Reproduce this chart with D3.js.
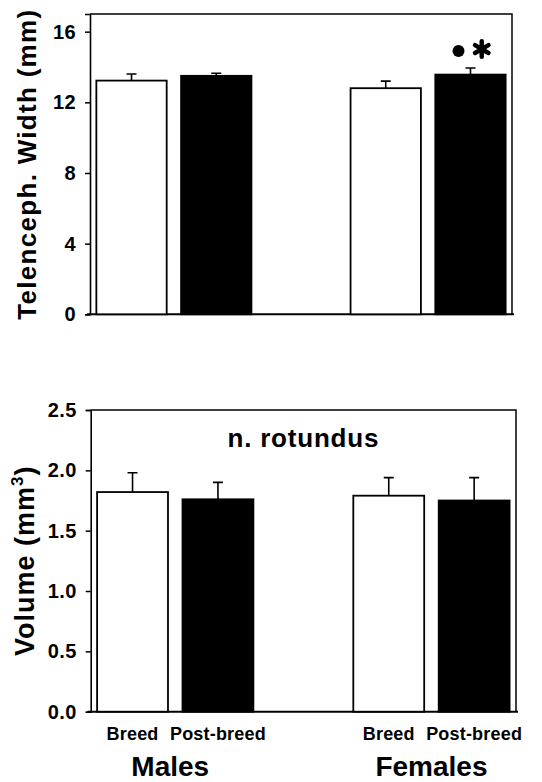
<!DOCTYPE html>
<html>
<head>
<meta charset="utf-8">
<script src="https://cdn.jsdelivr.net/npm/d3@7"></script>
<style>
  body { margin: 0; background: #fff; }
  text { font-family: "Liberation Sans", Arial, sans-serif; font-weight: bold; fill: #000; }
</style>
</head>
<body>
<svg id="chart" width="542" height="782"></svg>
<script>
const groups = ["Males", "Females"];
const conditions = ["Breed", "Post-breed"];

// telencephalon width (mm), bars in order Males-Breed, Males-Post, Females-Breed, Females-Post
const telenMean = [13.23, 13.5, 12.8, 13.57];
const telenSem = [0.37, 0.15, 0.4, 0.37];
const telenTicks = [0, 4, 8, 12, 16];

// n. rotundus volume (mm3)
const rotMean = [1.82, 1.76, 1.79, 1.75];
const rotSem = [0.16, 0.14, 0.15, 0.19];
const rotTicks = [0, 0.5, 1.0, 1.5, 2.0, 2.5];

const svg = d3.select("#chart");

function rows(mean, sem) {
  const out = [];
  groups.forEach((g, gi) => conditions.forEach((c, ci) => {
    const i = gi * conditions.length + ci;
    out.push({ group: g, cond: c, ci: ci, mean: mean[i], sem: sem[i] });
  }));
  return out;
}

function panel(opts) {
  const { x0px, x1px, y0px, y1px, max, ticks, fmt, data } = opts;

  const x0 = d3.scaleBand().domain(groups).range([x0px, x1px])
    .paddingInner(0.39).paddingOuter(0.025);
  const x1 = d3.scaleBand().domain(conditions).range([0, x0.bandwidth()])
    .paddingInner(0.17);
  const y = d3.scaleLinear().domain([0, max]).range([y1px, y0px]);

  const g = svg.append("g");

  // frame (top + right)
  g.append("path")
    .attr("d", `M${x0px},${y0px}H${x1px}V${y1px}`)
    .attr("fill", "none").attr("stroke", "#000").attr("stroke-width", 1.5);

  // baseline
  g.append("line")
    .attr("x1", x0px - 3).attr("x2", x1px + 2)
    .attr("y1", y1px).attr("y2", y1px)
    .attr("stroke", "#000").attr("stroke-width", 2);

  const yAxis = g.append("g")
    .attr("transform", `translate(${x0px},0)`)
    .call(d3.axisLeft(y).tickValues(ticks).tickFormat(fmt).tickSize(5).tickPadding(9));
  yAxis.select(".domain").attr("stroke-width", 1.6);
  yAxis.selectAll(".tick line").attr("stroke-width", 1.5);
  yAxis.selectAll(".tick text")
    .attr("font-size", 20).attr("font-family", null).attr("letter-spacing", 0.4);

  const bx = d => x0(d.group) + x1(d.cond);

  // error bars (upper only)
  g.selectAll(".err").data(data).enter().append("path")
    .attr("d", d => {
      const cx = bx(d) + x1.bandwidth() / 2;
      const yt = y(d.mean + d.sem);
      return `M${cx},${y(d.mean)}V${yt}M${cx - 5},${yt}H${cx + 5}`;
    })
    .attr("fill", "none").attr("stroke", "#000").attr("stroke-width", 1.6);

  g.selectAll(".bar").data(data).enter().append("rect")
    .attr("x", bx)
    .attr("y", d => y(d.mean))
    .attr("width", x1.bandwidth())
    .attr("height", d => y1px - y(d.mean))
    .attr("fill", d => d.ci === 0 ? "#fff" : "#000")
    .attr("stroke", "#000").attr("stroke-width", 1.8);

  return { x0, x1, y, g };
}

// top panel
const p1 = panel({
  x0px: 90, x1px: 512, y0px: 14, y1px: 314.3, max: 17,
  ticks: telenTicks, fmt: d3.format("d"), data: rows(telenMean, telenSem)
});

p1.g.append("text")
  .attr("transform", `translate(36,${(14 + 314.3) / 2}) rotate(-90)`)
  .attr("text-anchor", "middle")
  .attr("font-size", 26).attr("letter-spacing", 1.3)
  .text("Telenceph. Width (mm)");

// significance markers over Females post-breed
{
  const cx = p1.x0("Females") + p1.x1("Post-breed");
  const w = p1.x1.bandwidth();
  const yTop = p1.y(telenMean[3] + telenSem[3]);
  p1.g.append("circle")
    .attr("cx", cx + w * 0.33).attr("cy", yTop - 17).attr("r", 6);
  p1.g.append("path")
    .attr("d", d3.symbol(d3.symbolAsterisk, 170)())
    .attr("transform", `translate(${cx + w * 0.66},${yTop - 19})`)
    .attr("fill", "none").attr("stroke", "#000")
    .attr("stroke-width", 4.5).attr("stroke-linecap", "round");
}

// bottom panel
const p2 = panel({
  x0px: 90.7, x1px: 516, y0px: 410, y1px: 711.7, max: 2.5,
  ticks: rotTicks, fmt: d3.format(".1f"), data: rows(rotMean, rotSem)
});

const vt = p2.g.append("text")
  .attr("transform", `translate(34,${(410 + 711.7) / 2}) rotate(-90)`)
  .attr("text-anchor", "middle")
  .attr("font-size", 27).attr("letter-spacing", 1);
vt.append("tspan").text("Volume (mm");
vt.append("tspan").attr("font-size", 17).attr("dy", -11).text("3");
vt.append("tspan").attr("dy", 11).text(")");

p2.g.append("text")
  .attr("x", (90.7 + 516) / 2).attr("y", 447)
  .attr("text-anchor", "middle")
  .attr("font-size", 26).attr("letter-spacing", 0.8)
  .text("n. rotundus");

// category labels
groups.forEach(gname => {
  conditions.forEach(c => {
    p2.g.append("text")
      .attr("x", p2.x0(gname) + p2.x1(c) + p2.x1.bandwidth() / 2)
      .attr("y", 740)
      .attr("text-anchor", "middle")
      .attr("font-size", 18).attr("letter-spacing", 0.2)
      .text(c);
  });
  p2.g.append("text")
    .attr("x", p2.x0(gname) + p2.x0.bandwidth() / 2 - (gname === "Males" ? 5 : 0))
    .attr("y", 776)
    .attr("text-anchor", "middle")
    .attr("font-size", 28)
    .text(gname);
});
</script>
</body>
</html>
